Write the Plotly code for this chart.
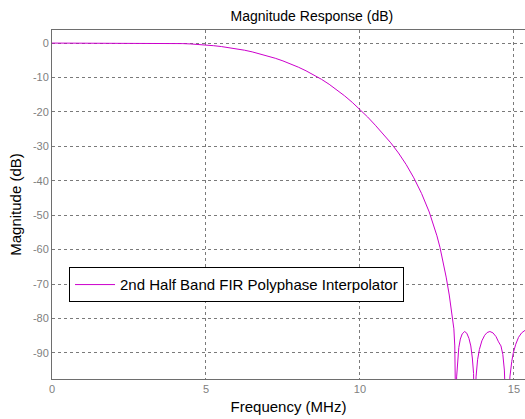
import plotly.graph_objects as go

# Magnitude response of the 2nd half-band FIR polyphase interpolator
freq_mhz = [0, 1, 2, 3, 3.5, 3.75, 4.0, 4.25, 4.5, 4.75, 5.0, 5.25, 5.5, 5.75,
            6.0, 6.25, 6.5, 6.75, 7.0, 7.25, 7.5, 7.75, 8.0, 8.25, 8.5, 8.75,
            9.0, 9.25, 9.5, 9.75, 10.0, 10.25, 10.5, 10.75, 11.0, 11.25, 11.5,
            11.75, 12.0, 12.25, 12.4, 12.5, 12.6, 12.7, 12.8, 12.9, 13.0,
            13.05, 13.08, 13.1, 13.12,
            13.14, 13.17, 13.21, 13.26, 13.32, 13.4, 13.47, 13.54, 13.6, 13.65,
            13.69, 13.72,
            13.77, 13.82, 13.88, 13.96, 14.05, 14.13, 14.22, 14.32, 14.42, 14.5,
            14.58, 14.64, 14.69, 14.75, 14.79, 14.83,
            14.87, 14.93, 14.98, 15.06, 15.15, 15.25, 15.4]
mag_db = [0, 0, 0, 0, -0.02, -0.04, -0.08, -0.15, -0.25, -0.38, -0.55, -0.76,
          -1.01, -1.31, -1.66, -2.07, -2.55, -3.10, -3.72, -4.41, -5.18, -6.04,
          -7.00, -8.06, -9.22, -10.52, -11.97, -13.57, -15.32, -17.22, -19.27,
          -21.47, -23.87, -26.32, -28.97, -31.92, -35.27, -39.17, -43.67,
          -49.07, -53.0, -56.0, -59.4, -63.4, -68.0, -73.2, -79.0,
          -83.0, -88.0, -94.0, -115.0,
          -97.0, -92.0, -88.5, -86.0, -84.5, -83.8, -84.3, -85.8, -88.0, -91.5,
          -96.0, -115.0,
          -97.0, -92.0, -89.0, -86.5, -84.9, -84.1, -83.8, -84.2, -85.3, -86.8,
          -88.0, -90.5, -95.0, -110.0, -120.0, -110.0,
          -97.0, -92.5, -90.0, -87.5, -85.5, -84.2, -83.2]

x_ticks = [0, 5, 10, 15]
y_ticks = [0, -10, -20, -30, -40, -50, -60, -70, -80, -90]

font_family = "Liberation Sans, Arial, sans-serif"
grid_color = "#7a7a7a"
axis_color = "#6e6e6e"

fig = go.Figure()
fig.add_trace(go.Scatter(
    x=freq_mhz, y=mag_db, mode="lines",
    line=dict(color="#cc00cc", width=1),
    name="2nd Half Band FIR Polyphase Interpolator",
))

fig.update_layout(
    width=525, height=419,
    margin=dict(l=52, r=0, t=30, b=40),
    paper_bgcolor="white", plot_bgcolor="white",
    font=dict(family=font_family, size=11, color="#808080"),
    title=dict(text="Magnitude Response (dB)", x=0.594, xanchor="center",
               y=0.962, yanchor="middle",
               font=dict(family=font_family, size=14, color="black")),
    showlegend=True,
    legend=dict(x=0.036, y=0.32, xanchor="left", yanchor="top",
                bgcolor="white", bordercolor="black", borderwidth=1,
                tracegroupgap=0, itemwidth=40,
                font=dict(family=font_family, size=15, color="black")),
)

fig.update_xaxes(
    range=[0, 15.36], tickvals=x_ticks, ticktext=[str(v) for v in x_ticks],
    showgrid=True, gridcolor=grid_color, griddash="dot", gridwidth=1,
    showline=True, mirror=True, linecolor=axis_color, linewidth=1,
    ticks="", zeroline=False,
    title=dict(text="Frequency (MHz)", standoff=7,
               font=dict(family=font_family, size=15, color="black")),
)
fig.update_yaxes(
    range=[-97.6, 3.8], tickvals=y_ticks,
    ticktext=[str(v) for v in y_ticks],
    showgrid=True, gridcolor=grid_color, griddash="dot", gridwidth=1,
    showline=True, mirror=True, linecolor=axis_color, linewidth=1,
    ticks="", zeroline=False,
    title=dict(text="Magnitude (dB)", standoff=7,
               font=dict(family=font_family, size=15, color="black")),
)

fig.write_html("out.html")
